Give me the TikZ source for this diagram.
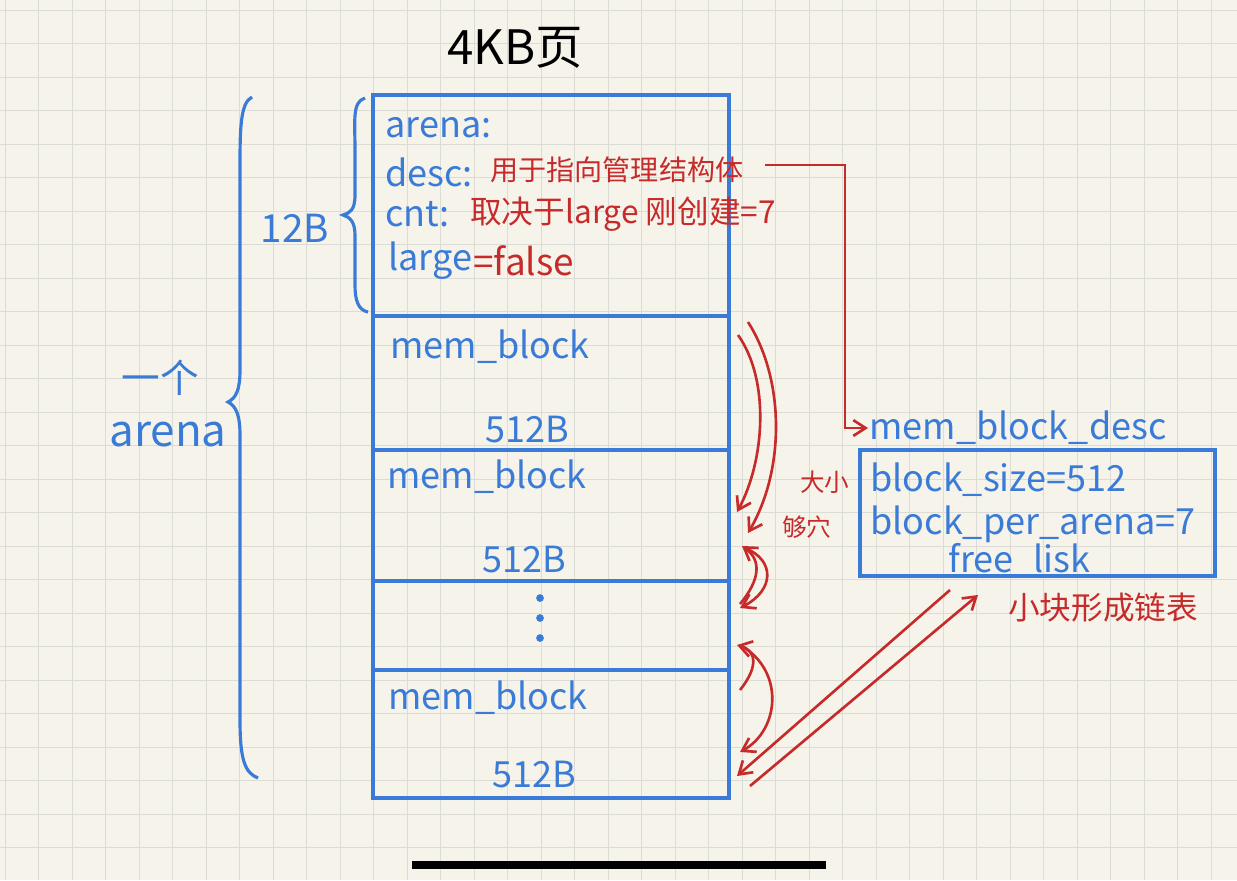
\documentclass[tikz,border=0pt]{standalone}
\usepackage{fontspec}
\setmainfont{Noto Sans CJK SC}
\usetikzlibrary{arrows.meta}
\definecolor{bg}{HTML}{F6F4EA}
\definecolor{grid}{HTML}{DCDCD6}
\definecolor{bl}{HTML}{3A7BD8}
\definecolor{rd}{HTML}{C62A2A}
\tikzset{
 box/.style={draw=bl,line width=1.8pt},
 bt/.style={text=bl,font=\fontsize{20.5}{22}\selectfont,anchor=west,inner sep=0},
 rt/.style={text=rd,font=\fontsize{18}{20}\selectfont,anchor=west,inner sep=0},
 ra/.style={draw=rd,line width=1.5pt,-{Straight Barb[length=7pt,width=9pt]}},
}
\begin{document}
\begin{tikzpicture}[x=0.02cm,y=-0.02cm]
\fill[bg] (0,0) rectangle (1237,880);
\useasboundingbox (0,0) rectangle (1237,880);
\foreach \i in {0,...,37} \draw[grid,line width=0.5pt] (\i*33.5+5,0) -- (\i*33.5+5,880);
\foreach \i in {0,...,26} \draw[grid,line width=0.5pt] (0,\i*33.5+10) -- (1237,\i*33.5+10);
% main box
\draw[box] (373,95) rectangle (729,798);
\foreach \y in {316,450,581,670} \draw[box] (373,\y) -- (729,\y);
\node[text=black,font=\fontsize{27}{30}\selectfont] (title) at (515,48) {4KB页};
\node[bt] (a1) at (385,128) {arena:};
\node[bt] (a2) at (385,172) {desc:};
\node[bt] (a3) at (385,214) {cnt:};
\node[bt] (a4) at (388,261) {large};
\node[rt,font=\fontsize{16}{18}\selectfont] (r2) at (490,170) {用于指向管理结构体};
\node[rt] (r3) at (470,214) {取决于large 刚创建=7};
\node[rt,font=\fontsize{21}{23}\selectfont] (r4) at (473,261) {=false};
\node[bt] (m1) at (390,347) {mem\_block};
\node[bt] (s1) at (485,430) {512B};
\node[bt] (m2) at (387,477) {mem\_block};
\node[bt] (s2) at (482,560) {512B};
\foreach \y in {598,618,638} \fill[bl] (540,\y) circle (2.2pt);
\node[inner sep=0] (dots) at (540,618) {};
\node[bt] (m3) at (388,698) {mem\_block};
\node[bt] (s3) at (492,775) {512B};
% braces
\draw[bl,line width=1.8pt] (365,98) .. controls (352,102) and (355,120) .. (355,150) -- (355,195) .. controls (355,210) and (350,213) .. (343,215) .. controls (350,217) and (355,222) .. (355,235) -- (355,285) .. controls (355,300) and (358,310) .. (368,312);
\node[text=bl,font=\fontsize{22}{24}\selectfont] (b12) at (295,228) {12B};
\draw[bl,line width=1.8pt] (252,97) .. controls (240,103) and (240,130) .. (240,170) -- (240,370) .. controls (240,390) and (236,398) .. (228,402) .. controls (236,406) and (240,415) .. (240,435) -- (240,720) .. controls (240,760) and (245,773) .. (258,778);
\node[text=bl,font=\fontsize{22}{24}\selectfont] (yg) at (160,378) {一个};
\node[text=bl,font=\fontsize{25}{27}\selectfont] (ar) at (168,435) {arena};
% desc box
\node[text=bl,font=\fontsize{20.5}{22}\selectfont,inner sep=0] (dt) at (1018,428) {mem\_block\_desc};
\draw[box] (860,450) rectangle (1215,576);
\node[bt] (d1) at (870,480) {block\_size=512};
\node[bt] (d2) at (870,524) {block\_per\_arena=7};
\node[bt] (d3) at (948,560) {free\_lisk};
\coordinate (de) at (765,165);
\coordinate (dn) at (868,428);
\draw[ra] (de) -- (845,165) -- (845,428) -- (dn);
\node[rt,font=\fontsize{14}{16}\selectfont] (dx) at (800,482) {大小};
\node[rt,font=\fontsize{14}{16}\selectfont] (dy) at (782,527) {够穴};
\node[rt] (lk) at (1008,608) {小块形成链表};
% curved arrows
\draw[ra] (738,335) .. controls (770,380) and (765,460) .. (737,512);
\draw[ra] (748,322) .. controls (785,380) and (785,470) .. (748,533);
\draw[ra] (740,604) .. controls (760,580) and (762,560) .. (742,546);
\draw[ra] (745,548) .. controls (775,560) and (775,590) .. (740,608);
\draw[ra] (740,690) .. controls (760,665) and (755,650) .. (737,645);
\draw[ra] (740,645) .. controls (785,670) and (780,730) .. (740,752);
% double lines to free list
\coordinate (fl1) at (978,595);
\coordinate (fl2) at (950,590);
\draw[ra] (750,786) -- (fl1);
\draw[ra] (fl2) -- (737,776);
\fill[black] (412,861) rectangle (826,869);
\end{tikzpicture}
\end{document}
